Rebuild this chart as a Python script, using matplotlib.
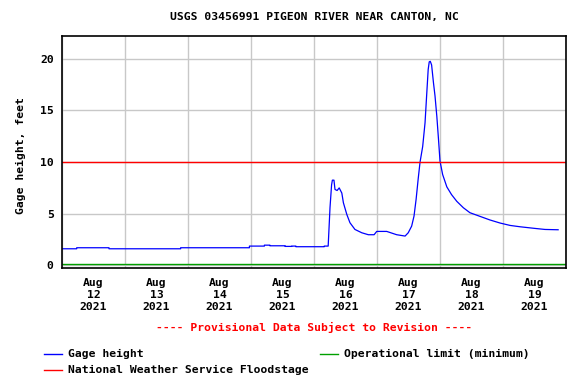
import matplotlib
matplotlib.use('Agg')
import matplotlib.pyplot as plt
from matplotlib.lines import Line2D
import pandas as pd

# hours since 2021-08-12 00:00 and gage height (ft)
hours = [0, 5.6, 5.6, 17.9, 17.9, 45.2, 45.2, 71.4, 71.4, 77.1, 77.1, 79.2, 79.2,
         85.0, 85.0, 87.5, 87.5, 89.1, 89.1, 99.9, 99.9, 101.4, 102.1, 102.7, 103.0,
         103.6, 104.0, 104.8, 105.6, 106.6, 107.2, 108.5, 109.7, 111.6, 114.2, 116.7,
         118.9, 119.9, 123.7, 127.5, 130.7, 131.9, 133.2, 134.1, 134.9, 135.7, 136.4,
         137.4, 138.3, 138.9, 139.5, 139.9, 140.3, 140.8, 141.5, 142.1, 142.8, 143.4,
         144.0, 145.0, 146.6, 148.4, 150.4, 152.9, 155.4, 159.2, 163.0, 166.9, 170.7,
         174.5, 180.2, 184.0, 189.0]
gage = [1.61, 1.61, 1.71, 1.71, 1.61, 1.61, 1.71, 1.71, 1.87, 1.87, 1.96, 1.96, 1.90,
        1.90, 1.84, 1.84, 1.87, 1.87, 1.81, 1.81, 1.87, 1.87, 5.6, 7.8, 8.25,
        8.25, 7.35, 7.25, 7.5, 7.0, 6.06, 4.93, 4.13, 3.48, 3.16, 2.97,
        2.97, 3.29, 3.29, 2.97, 2.84, 3.16, 3.8, 4.77, 6.4, 8.4, 10.0,
        11.5, 13.8, 16.4, 18.96, 19.7, 19.75, 19.4, 17.7, 16.4, 14.4, 12.3,
        10.1, 8.8, 7.6, 6.85, 6.2, 5.58, 5.1, 4.75, 4.4, 4.1, 3.87,
        3.74, 3.58, 3.48, 3.45]
flood_stage = 10.0
operational_min = 0.13
day_labels = ['12', '13', '14', '15', '16', '17', '18', '19']

start = pd.Timestamp('2021-08-12')
times = start + pd.to_timedelta(hours, unit='h')

W, H = 578, 386
font = 'DejaVu Sans Mono'
fs = 8.2

fig = plt.figure(figsize=(W / 100, H / 100), dpi=100)
ax = fig.add_axes([62 / W, 1 - 268 / H, (566 - 62) / W, (268 - 36) / H])

ax.plot(times, gage, color='#0000ff', lw=0.9)
ax.axhline(flood_stage, color='#ff0000', lw=1.0)
ax.axhline(operational_min, color='#00a000', lw=1.0)

ax.set_xlim(start, start + pd.Timedelta(days=8))
ax.set_ylim(-0.25, 22.2)

days = [start + pd.Timedelta(days=i) for i in range(9)]
ax.set_xticks(days)
ax.set_xticklabels([])
ax.set_xticks([d + pd.Timedelta(hours=12) for d in days[:-1]], minor=True)
ax.set_xticklabels(['Aug\n%s\n2021' % d for d in day_labels], minor=True,
                   fontfamily=font, fontweight='bold', fontsize=fs, linespacing=1.25)
ax.set_yticks([0, 5, 10, 15, 20])
ax.set_yticklabels(['0', '5', '10', '15', '20'], fontfamily=font,
                   fontweight='bold', fontsize=fs)
ax.tick_params(axis='both', which='both', length=0)
ax.tick_params(axis='x', which='minor', pad=7)
ax.tick_params(axis='y', pad=6)
ax.grid(True, which='major', color='#c8c8c8', lw=1.0)
ax.set_axisbelow(True)
for s in ax.spines.values():
    s.set_linewidth(1.2)

fig.text(314 / W, 1 - 17 / H, 'USGS 03456991 PIGEON RIVER NEAR CANTON, NC',
         ha='center', va='center', fontfamily=font, fontweight='bold', fontsize=fs)
fig.text(21 / W, 1 - 156 / H, 'Gage height, feet', rotation=90,
         ha='center', va='center', fontfamily=font, fontweight='bold', fontsize=fs)
fig.text(314 / W, 1 - 327 / H, '---- Provisional Data Subject to Revision ----',
         ha='center', va='center', color='#ff0000', fontfamily=font,
         fontweight='bold', fontsize=fs)

# legend
legend_items = [(44, 354, '#0000ff', 'Gage height'),
                (320, 354, '#00a000', 'Operational limit (minimum)'),
                (44, 370, '#ff0000', 'National Weather Service Floodstage')]
for x, y, c, label in legend_items:
    fig.add_artist(Line2D([x / W, (x + 18) / W], [1 - y / H, 1 - y / H],
                          color=c, lw=1.0, transform=fig.transFigure))
    fig.text((x + 24) / W, 1 - y / H, label, ha='left', va='center',
             fontfamily=font, fontweight='bold', fontsize=fs)

fig.savefig('out.png', dpi=100)
